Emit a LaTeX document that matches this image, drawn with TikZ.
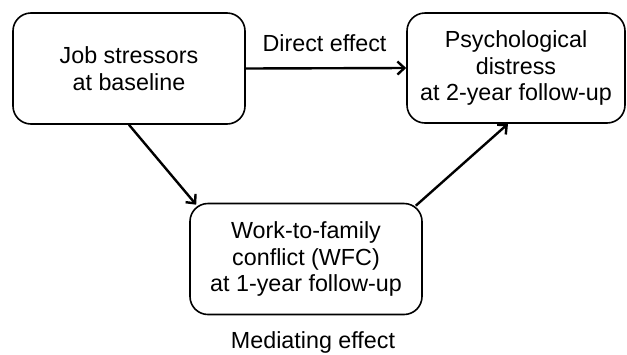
\documentclass[tikz,border=0pt]{standalone}
\usepackage{fontspec}
\setmainfont{Liberation Sans}
\usetikzlibrary{arrows.meta}
\begin{document}
\begin{tikzpicture}[x=1bp,y=-1bp,
  box/.style={draw, line width=1.6bp, rounded corners=18bp, align=center,
    font=\fontsize{23.3bp}{26.5bp}\selectfont, inner sep=0pt},
  arr/.style={line width=2.4bp, -{Straight Barb[length=7bp,width=13bp]}},
  lbl/.style={font=\fontsize{23.3bp}{26.5bp}\selectfont, inner sep=0pt}]
\fill[white] (0,0) rectangle (627,354);
\useasboundingbox (0,0) rectangle (627,354);
\node[box, minimum width=232bp, minimum height=111bp] (b1) at (129,68.5) {Job stressors\\at baseline};
\node[box, minimum width=218bp, minimum height=110bp] (b2) at (516,68) {Psychological\\distress\\at 2-year follow-up};
\node[box, minimum width=232bp, minimum height=111bp] (b3) at (306,259) {Work-to-family\\conflict (WFC)\\at 1-year follow-up};
\node[lbl] (direct) at (324.5,43.5) {Direct effect};
\node[lbl, anchor=base] (med) at (313,348) {Mediating effect};
\draw[arr] (b1.east) -- (b2.west);
\draw[arr] (b1.south) -- ([xshift=7bp,yshift=-2bp]b3.north west);
\draw[arr] ([xshift=-7bp,yshift=-3bp]b3.north east) -- ([xshift=-8bp]b2.south);
\end{tikzpicture}
\end{document}
